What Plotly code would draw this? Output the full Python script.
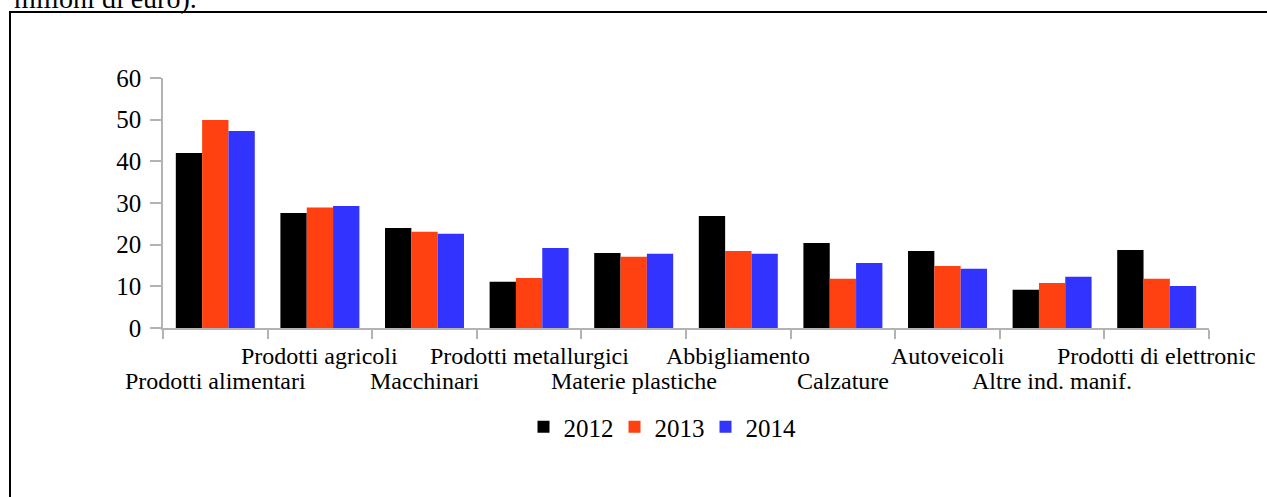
import plotly.graph_objects as go

categories = ["Prodotti alimentari", "Prodotti agricoli", "Macchinari", "Prodotti metallurgici",
              "Materie plastiche", "Abbigliamento", "Calzature", "Autoveicoli",
              "Altre ind. manif.", "Prodotti di elettronic"]
years = ["2012", "2013", "2014"]
v2012 = [42.0, 27.6, 24.0, 11.1, 18.0, 26.9, 20.4, 18.5, 9.2, 18.7]
v2013 = [49.9, 28.9, 23.1, 12.0, 17.1, 18.5, 11.8, 14.9, 10.8, 11.8]
v2014 = [47.3, 29.3, 22.6, 19.2, 17.8, 17.8, 15.6, 14.2, 12.3, 10.1]
colors = ["#000000", "#FF4111", "#3333FF"]
y_ticks = [0, 10, 20, 30, 40, 50, 60]

FONT = "Liberation Serif"
W, H = 1267, 497
# plot area in page pixels: x 163..1209, y 78..328
ML, MR, MT, MB = 163, W - 1209, 78, H - 328
PW, PH = W - ML - MR, H - MT - MB

def px_x(x):
    return (x - ML) / PW

def px_y(y):
    return (H - MB - y) / PH

fig = go.Figure()
for name, vals, c in zip(years, [v2012, v2013, v2014], colors):
    fig.add_trace(go.Bar(x=categories, y=vals, name=name, marker=dict(color=c, line=dict(width=0))))

annotations = []
for i, cat in enumerate(categories):
    row_y = 356 if i % 2 == 1 else 381
    annotations.append(dict(x=cat, xref="x", y=px_y(row_y), yref="paper", text=cat,
                            showarrow=False, xanchor="center", yanchor="middle",
                            font=dict(family=FONT, size=24, color="black")))
annotations.append(dict(x=px_x(199), xref="paper", y=px_y(16), yref="paper",
                        text="milioni di euro).", showarrow=False, xanchor="right", yanchor="bottom",
                        font=dict(family=FONT, size=28, color="black")))

fig.update_layout(
    width=W, height=H,
    margin=dict(l=ML, r=MR, t=MT, b=MB, pad=0),
    paper_bgcolor="white", plot_bgcolor="white",
    barmode="group", bargap=0.245, bargroupgap=0,
    font=dict(family=FONT, size=24, color="black"),
    showlegend=True,
    legend=dict(orientation="h", x=px_x(660), xanchor="center", y=px_y(427), yanchor="middle",
                font=dict(family=FONT, size=25, color="black"),
                itemclick=False, itemdoubleclick=False, tracegroupgap=0,
                entrywidth=46, entrywidthmode="pixels", bgcolor="rgba(0,0,0,0)"),
    xaxis=dict(range=[-0.5, len(categories) - 0.5], autorange=False,
               showline=True, linecolor="#b3b3b3", linewidth=1.5, ticks="outside",
               tickson="boundaries", ticklen=9, tickcolor="#b3b3b3", tickwidth=1.5,
               showticklabels=False, showgrid=False, zeroline=False, fixedrange=True),
    yaxis=dict(range=[0, 60], tickvals=y_ticks, showline=True, linecolor="#b3b3b3", linewidth=1.5,
               ticks="outside", ticklen=11, tickcolor="#b3b3b3", tickwidth=1.5,
               ticklabelstandoff=4,
               showgrid=False, zeroline=False, tickfont=dict(family=FONT, size=25, color="black"),
               fixedrange=True),
    annotations=annotations,
    shapes=[dict(type="rect", xref="paper", yref="paper",
                 x0=px_x(10), x1=px_x(1290), y0=px_y(530), y1=px_y(12),
                 line=dict(color="black", width=2), fillcolor="rgba(0,0,0,0)", layer="above")],
)

fig.write_html("out.html", config={"displayModeBar": False},
               post_script="document.body.style.margin='0';")
